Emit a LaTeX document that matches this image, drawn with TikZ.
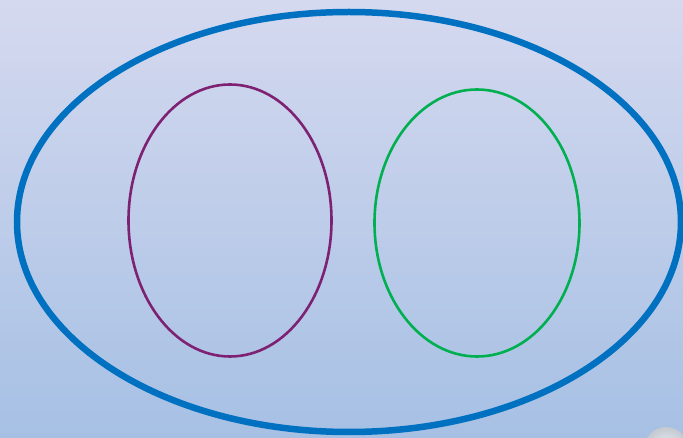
\documentclass[tikz,border=0pt]{standalone}
\usetikzlibrary{shapes.geometric}
\definecolor{bgtop}{HTML}{D5D9EF}
\definecolor{bgbot}{HTML}{A6C0E4}
\definecolor{outerblue}{HTML}{0070C0}
\definecolor{setpurple}{HTML}{7E2172}
\definecolor{setgreen}{HTML}{00B050}
\tikzset{
  setline/.style={line width=2.6pt},
}
\begin{document}
\begin{tikzpicture}[x=1pt,y=-1pt]
  \useasboundingbox (0,0) rectangle (683,438);
  \shade[top color=bgtop, bottom color=bgbot] (0,0) rectangle (683,438);
  \begin{scope}
    \clip (0,0) rectangle (683,438);
    \shade[inner color=white, outer color=gray!40, opacity=0.8] (666,449) circle[radius=22];
    \draw[outerblue, line width=6.5pt] (349,222) ellipse[x radius=332, y radius=210];
  \end{scope}
  \draw[setline, setpurple] (230,220.5) ellipse[x radius=101.5, y radius=136];
  \draw[setline, setgreen] (477,223) ellipse[x radius=102.5, y radius=133.5];
\end{tikzpicture}
\end{document}
